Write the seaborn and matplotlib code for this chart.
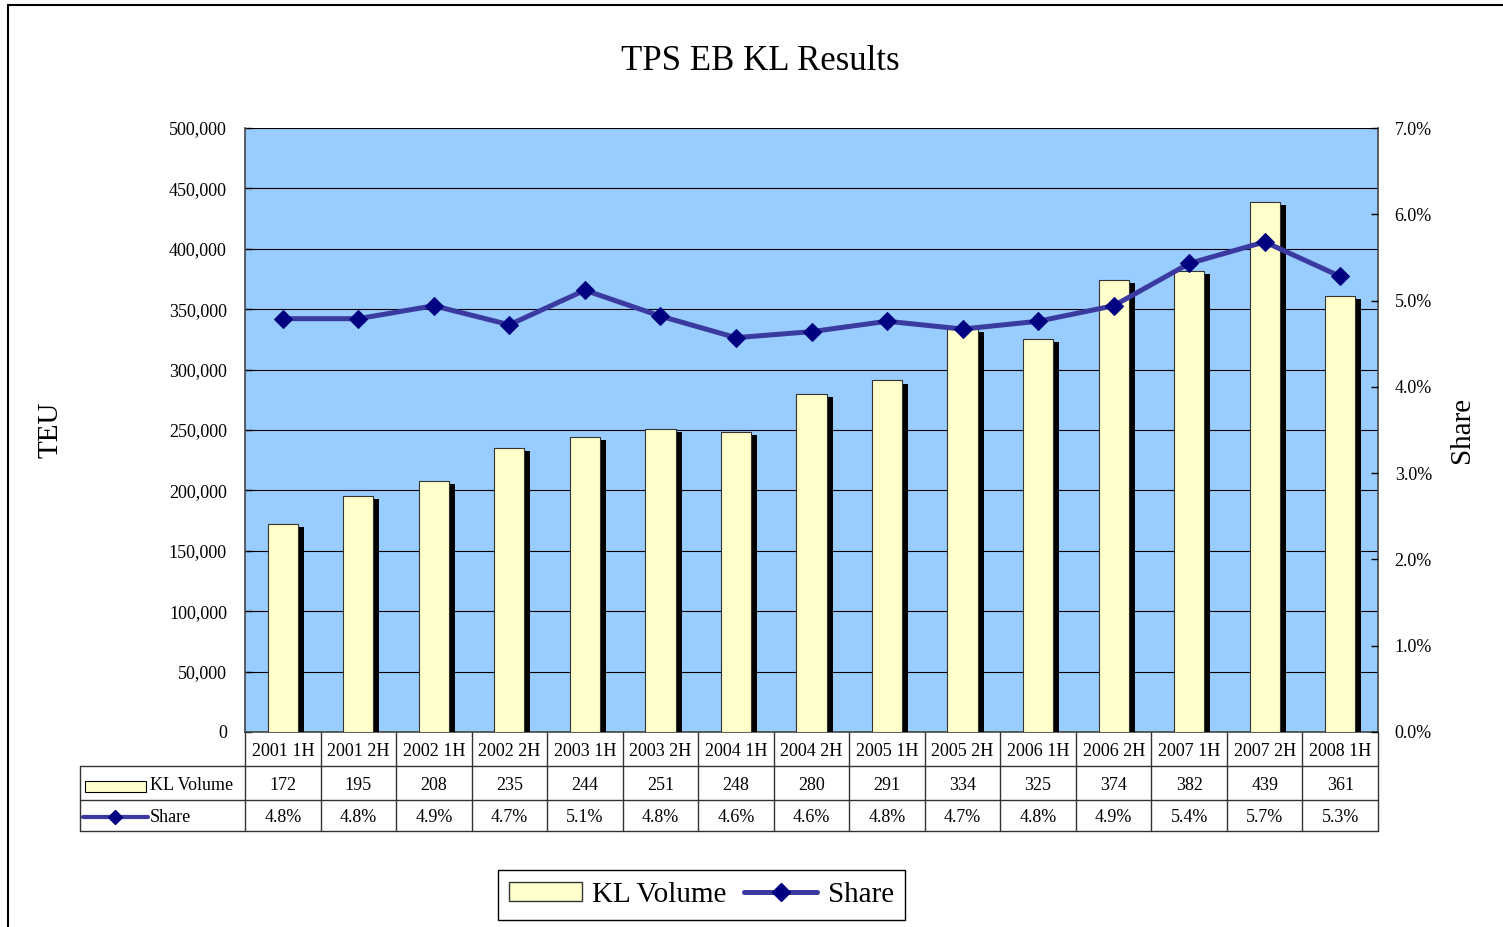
import numpy as np
import pandas as pd
import matplotlib
matplotlib.use("Agg")
import matplotlib.pyplot as plt
import seaborn as sns
from matplotlib import patheffects as pe
from matplotlib.lines import Line2D
from matplotlib.patches import Patch, Rectangle
import matplotlib.transforms as mtransforms
from matplotlib.ticker import FuncFormatter, MultipleLocator

# ---------------- data ----------------
periods = ["2001 1H", "2001 2H", "2002 1H", "2002 2H", "2003 1H", "2003 2H",
           "2004 1H", "2004 2H", "2005 1H", "2005 2H", "2006 1H", "2006 2H",
           "2007 1H", "2007 2H", "2008 1H"]
kl_volume_k = [172, 195, 208, 235, 244, 251, 248, 280, 291, 334, 325, 374, 382, 439, 361]
share_pct = [4.79, 4.79, 4.94, 4.72, 5.12, 4.82, 4.57, 4.64, 4.76, 4.67, 4.76, 4.94, 5.43, 5.68, 5.28]

title = "TPS EB KL Results"
left_label = "TEU"
right_label = "Share"
bar_name = "KL Volume"
line_name = "Share"

# ---------------- style ----------------
sns.set_theme(style="white")
plt.rcParams['font.family'] = ['Liberation Serif', 'DejaVu Serif']
for k in ['text.color', 'axes.labelcolor', 'xtick.color', 'ytick.color']:
    plt.rcParams[k] = 'black'

BAR_COLOR = "#FFFFCC"
BG_COLOR = "#99CCFF"
LINE_COLOR = "#3A3AA0"
MARK_COLOR = "#000080"

df = pd.DataFrame({"period": periods,
                   "teu": np.array(kl_volume_k) * 1000,
                   "share": np.array(share_pct) / 100.0})
n = len(periods)

W, H = 1503, 927
fig = plt.figure(figsize=(W / 100, H / 100), dpi=100)
fig.patch.set_facecolor("white")
ax = fig.add_axes([245 / W, 195 / H, 1133 / W, 604 / H])
ax.set_facecolor(BG_COLOR)

sns.barplot(data=df, x="period", y="teu", ax=ax, color=BAR_COLOR, width=0.4,
            saturation=1, edgecolor="#333333", linewidth=0.8, zorder=3)
for p in ax.patches:
    p.set_path_effects([pe.SimplePatchShadow(offset=(4.3, -2.2), shadow_rgbFace="black", alpha=1.0),
                        pe.Normal()])

ax.set_xlim(-0.5, n - 0.5)
ax.set_ylim(0, 500000)
ax.yaxis.set_major_locator(MultipleLocator(50000))
ax.yaxis.set_major_formatter(FuncFormatter(lambda v, _: f"{int(v):,}"))
ax.yaxis.grid(True, color="black", linewidth=0.8)
ax.set_axisbelow(True)
ax.tick_params(axis="x", bottom=False, labelbottom=False)
ax.tick_params(axis="y", left=True, direction="in", length=5, width=1, pad=13,
               labelsize=13, colors="black")
ax.set_xlabel("")
ax.set_ylabel(left_label, fontsize=21)
ax.yaxis.label.set(va="center", ha="center")
ax.yaxis.set_label_coords(-0.1721, 0.5)
for s in ["left", "right", "bottom"]:
    ax.spines[s].set_color("#444444")
    ax.spines[s].set_linewidth(1.2)
ax.spines["top"].set_visible(False)

ax2 = ax.twinx()
sns.lineplot(x=np.arange(n), y=df["share"], ax=ax2, color=LINE_COLOR, linewidth=3.6,
             marker="D", markersize=9.5, markerfacecolor=MARK_COLOR,
             markeredgecolor=MARK_COLOR, zorder=5)
ax2.set_ylim(0, 0.07)
ax2.yaxis.set_major_locator(MultipleLocator(0.01))
ax2.yaxis.set_major_formatter(FuncFormatter(lambda v, _: f"{v * 100:.1f}%"))
ax2.tick_params(axis="y", right=True, direction="in", length=5, width=1, pad=12,
                labelsize=13, colors="black")
ax2.set_ylabel(right_label, fontsize=21, rotation=90)
ax2.yaxis.label.set(va="center", ha="center")
ax2.yaxis.set_label_coords(1.0741, 0.5)
ax2.grid(False)
for s in ax2.spines.values():
    s.set_visible(False)

# ---------------- data table ----------------
trans = mtransforms.blended_transform_factory(ax.transData, ax.transAxes)
y_r1, y_r2, y_r3 = -0.0563, -0.1126, -0.1639
x_left = -0.1456
tcol = "#333333"
for i in range(n + 1):
    ax.add_artist(Line2D([i - 0.5, i - 0.5], [0, y_r3], transform=trans, color=tcol,
                         lw=1, clip_on=False))
for yy in (y_r1, y_r2, y_r3):
    ax.add_artist(Line2D([x_left, 1], [yy, yy], transform=ax.transAxes, color=tcol,
                         lw=1, clip_on=False))
ax.add_artist(Line2D([x_left, x_left], [y_r1, y_r3], transform=ax.transAxes, color=tcol,
                     lw=1, clip_on=False))

dy = -0.004
for i in range(n):
    ax.text(i, (0 + y_r1) / 2 + dy, periods[i], transform=trans, ha="center", va="center",
            fontsize=13)
    ax.text(i, (y_r1 + y_r2) / 2 + dy, f"{kl_volume_k[i]}", transform=trans, ha="center",
            va="center", fontsize=13)
    ax.text(i, (y_r2 + y_r3) / 2 + dy, f"{share_pct[i]:.1f}%", transform=trans, ha="center",
            va="center", fontsize=13)

# row headers with legend keys
ax.add_artist(Rectangle((-0.1412, -0.0993), 0.0538, 0.0182, transform=ax.transAxes,
                        facecolor=BAR_COLOR, edgecolor="black", lw=0.8, clip_on=False))
ax.text(-0.0838, (y_r1 + y_r2) / 2 + dy, bar_name, transform=ax.transAxes, ha="left",
        va="center", fontsize=13)
ax.add_artist(Line2D([-0.143, -0.0856], [-0.1407, -0.1407], transform=ax.transAxes,
                     color=LINE_COLOR, lw=3, clip_on=False))
ax.add_artist(Line2D([-0.1143], [-0.1407], transform=ax.transAxes, marker="D", ms=7.5,
                     color=MARK_COLOR, clip_on=False))
ax.text(-0.0838, (y_r2 + y_r3) / 2 + dy, line_name, transform=ax.transAxes, ha="left",
        va="center", fontsize=13)

# ---------------- title / legend / border ----------------
fig.text(760 / W, 1 - 61 / H, title, ha="center", va="center", fontsize=25)

handles = [Patch(facecolor=BAR_COLOR, edgecolor="#333333", label=bar_name),
           Line2D([], [], color=LINE_COLOR, lw=3.6, marker="D", ms=9.5,
                  markerfacecolor=MARK_COLOR, markeredgecolor=MARK_COLOR, label=line_name)]
leg = fig.legend(handles=handles, loc="center", bbox_to_anchor=(701.5 / W, 32 / H), ncol=2,
                 frameon=True, fancybox=False, edgecolor="black", framealpha=1,
                 fontsize=21, handlelength=2.5, handleheight=0.6, handletextpad=0.35,
                 columnspacing=0.6, borderpad=0.4, borderaxespad=0)
leg.get_frame().set_linewidth(1)

fig.add_artist(Line2D([8 / W, 8 / W], [0, 1 - 5 / H], transform=fig.transFigure,
                      color="black", lw=1.5))
fig.add_artist(Line2D([8 / W, 1], [1 - 5 / H, 1 - 5 / H], transform=fig.transFigure,
                      color="black", lw=1.5))

fig.savefig("out.png", dpi=100)
